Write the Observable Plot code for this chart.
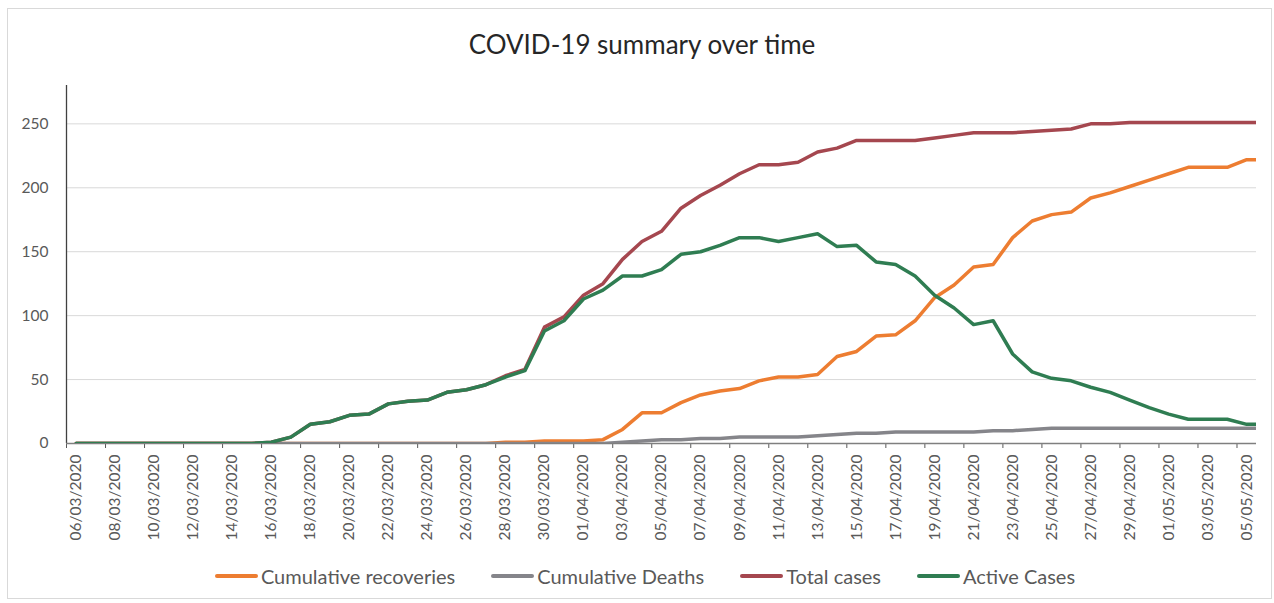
<!DOCTYPE html>
<html>
<head>
<meta charset="utf-8">
<script src="https://cdn.jsdelivr.net/npm/d3@7"></script>
<script src="https://cdn.jsdelivr.net/npm/@observablehq/plot@0.6"></script>
<style>
  body { margin: 0; background: #fff; font-family: Lato, "Open Sans", sans-serif; }
  #wrap { position: relative; width: 1274px; height: 603px; overflow: hidden; background: #fff; }
  #frame { position: absolute; left: 7px; top: 8px; width: 1265px; height: 591px; border: 1px solid #d9d9d9; box-sizing: border-box; }
  #title { position: absolute; left: 0; top: 28px; width: 1284px; line-height: 32px; text-align: center; font-size: 26px; color: #262626; }
  #chart { position: absolute; left: 0; top: 70px; }
  #legend { position: absolute; left: 0; top: 563px; width: 1274px; height: 26px; display: flex; justify-content: center; align-items: center; gap: 36px; font-size: 20px; color: #595959; padding-left: 16px; box-sizing: border-box; }
  .item { display: flex; align-items: center; }
  .swatch { width: 43px; height: 4px; border-radius: 2px; margin-right: 3px; }
</style>
</head>
<body>
<div id="wrap">
  <div id="frame"></div>
  <div id="title">COVID-19 summary over time</div>
  <div id="chart"></div>
  <div id="legend"></div>
</div>
<script>
const dates = [
  "06/03/2020","07/03/2020","08/03/2020","09/03/2020","10/03/2020","11/03/2020","12/03/2020","13/03/2020",
  "14/03/2020","15/03/2020","16/03/2020","17/03/2020","18/03/2020","19/03/2020","20/03/2020","21/03/2020",
  "22/03/2020","23/03/2020","24/03/2020","25/03/2020","26/03/2020","27/03/2020","28/03/2020","29/03/2020",
  "30/03/2020","31/03/2020","01/04/2020","02/04/2020","03/04/2020","04/04/2020","05/04/2020","06/04/2020",
  "07/04/2020","08/04/2020","09/04/2020","10/04/2020","11/04/2020","12/04/2020","13/04/2020","14/04/2020",
  "15/04/2020","16/04/2020","17/04/2020","18/04/2020","19/04/2020","20/04/2020","21/04/2020","22/04/2020",
  "23/04/2020","24/04/2020","25/04/2020","26/04/2020","27/04/2020","28/04/2020","29/04/2020","30/04/2020",
  "01/05/2020","02/05/2020","03/05/2020","04/05/2020","05/05/2020","06/05/2020"
];

const recoveries = [
  0,0,0,0,0,0,0,0,0,0,
  0,0,0,0,0,0,0,0,0,0,
  0,0,1,1,2,2,2,3,11,24,
  24,32,38,41,43,49,52,52,54,68,
  72,84,85,96,114,124,138,140,161,174,
  179,181,192,196,201,206,211,216,216,216,
  222,222
];

const deaths = [
  0,0,0,0,0,0,0,0,0,0,
  0,0,0,0,0,0,0,0,0,0,
  0,0,0,0,0,0,0,0,1,2,
  3,3,4,4,5,5,5,5,6,7,
  8,8,9,9,9,9,9,10,10,11,
  12,12,12,12,12,12,12,12,12,12,
  12,12
];

const totalCases = [
  0,0,0,0,0,0,0,0,0,0,
  1,5,15,17,22,23,31,33,34,40,
  42,46,53,58,91,99,116,125,144,158,
  166,184,194,202,211,218,218,220,228,231,
  237,237,237,237,239,241,243,243,243,244,
  245,246,250,250,251,251,251,251,251,251,
  251,251
];

const activeCases = [
  0,0,0,0,0,0,0,0,0,0,
  1,5,15,17,22,23,31,33,34,40,
  42,46,52,57,88,96,113,120,131,131,
  136,148,150,155,161,161,158,161,164,154,
  155,142,140,131,116,106,93,96,70,56,
  51,49,44,40,34,28,23,19,19,19,
  15,15
];

const seriesNames = ["Cumulative recoveries", "Cumulative Deaths", "Total cases", "Active Cases"];
const seriesColors = ["#ED7D31", "#85858A", "#A5474F", "#2F7D52"];
const seriesValues = [recoveries, deaths, totalCases, activeCases];
const yTicks = [0, 50, 100, 150, 200, 250];

const rows = seriesNames.flatMap((name, s) =>
  seriesValues[s].map((v, i) => ({ i, v, name }))
);

const nCats = 61; // labelled categories 06/03 .. 05/05
const boundaries = d3.range(-0.5, nCats - 1, 2);      // tick marks every two days
const labelIdx = d3.range(0, nCats, 2);               // labels every two days

const chart = Plot.plot({
  width: 1274,
  height: 475,
  marginTop: 15,
  marginLeft: 66,
  marginRight: 18,
  marginBottom: 102,
  x: { domain: [-0.5, nCats - 0.5] },
  y: { domain: [0, 280] },
  color: { domain: seriesNames, range: seriesColors },
  style: { fontFamily: "Lato, 'Open Sans', sans-serif", color: "#595959", background: "transparent" },
  marks: [
    Plot.gridY(yTicks.filter(d => d > 0), { stroke: "#d9d9d9", strokeOpacity: 1, strokeWidth: 1 }),
    Plot.axisY(yTicks, { tickSize: 0, tickPadding: 18, fontSize: 15.5, label: null }),
    Plot.axisX(boundaries, { tickSize: 5, tickFormat: () => "", label: null, stroke: "#595959" }),
    Plot.axisX(labelIdx, { tickSize: 0, tickPadding: 11, tickRotate: -90, fontSize: 15.5,
      tickFormat: i => dates[i], label: null }),
    Plot.ruleX([-0.5], { stroke: "#404040", strokeWidth: 1.3 }),
    Plot.ruleY([0], { stroke: "#7f7f7f", strokeWidth: 1.5 }),
    Plot.lineY(rows, { x: "i", y: "v", z: "name", stroke: "name", strokeWidth: 3.5,
      strokeLinejoin: "round", strokeLinecap: "round", clip: true })
  ]
});
document.getElementById("chart").appendChild(chart);

const legend = document.getElementById("legend");
seriesNames.forEach((name, s) => {
  const item = document.createElement("div");
  item.className = "item";
  const sw = document.createElement("span");
  sw.className = "swatch";
  sw.style.background = seriesColors[s];
  const label = document.createElement("span");
  label.textContent = name;
  item.appendChild(sw);
  item.appendChild(label);
  legend.appendChild(item);
});
</script>
</body>
</html>
